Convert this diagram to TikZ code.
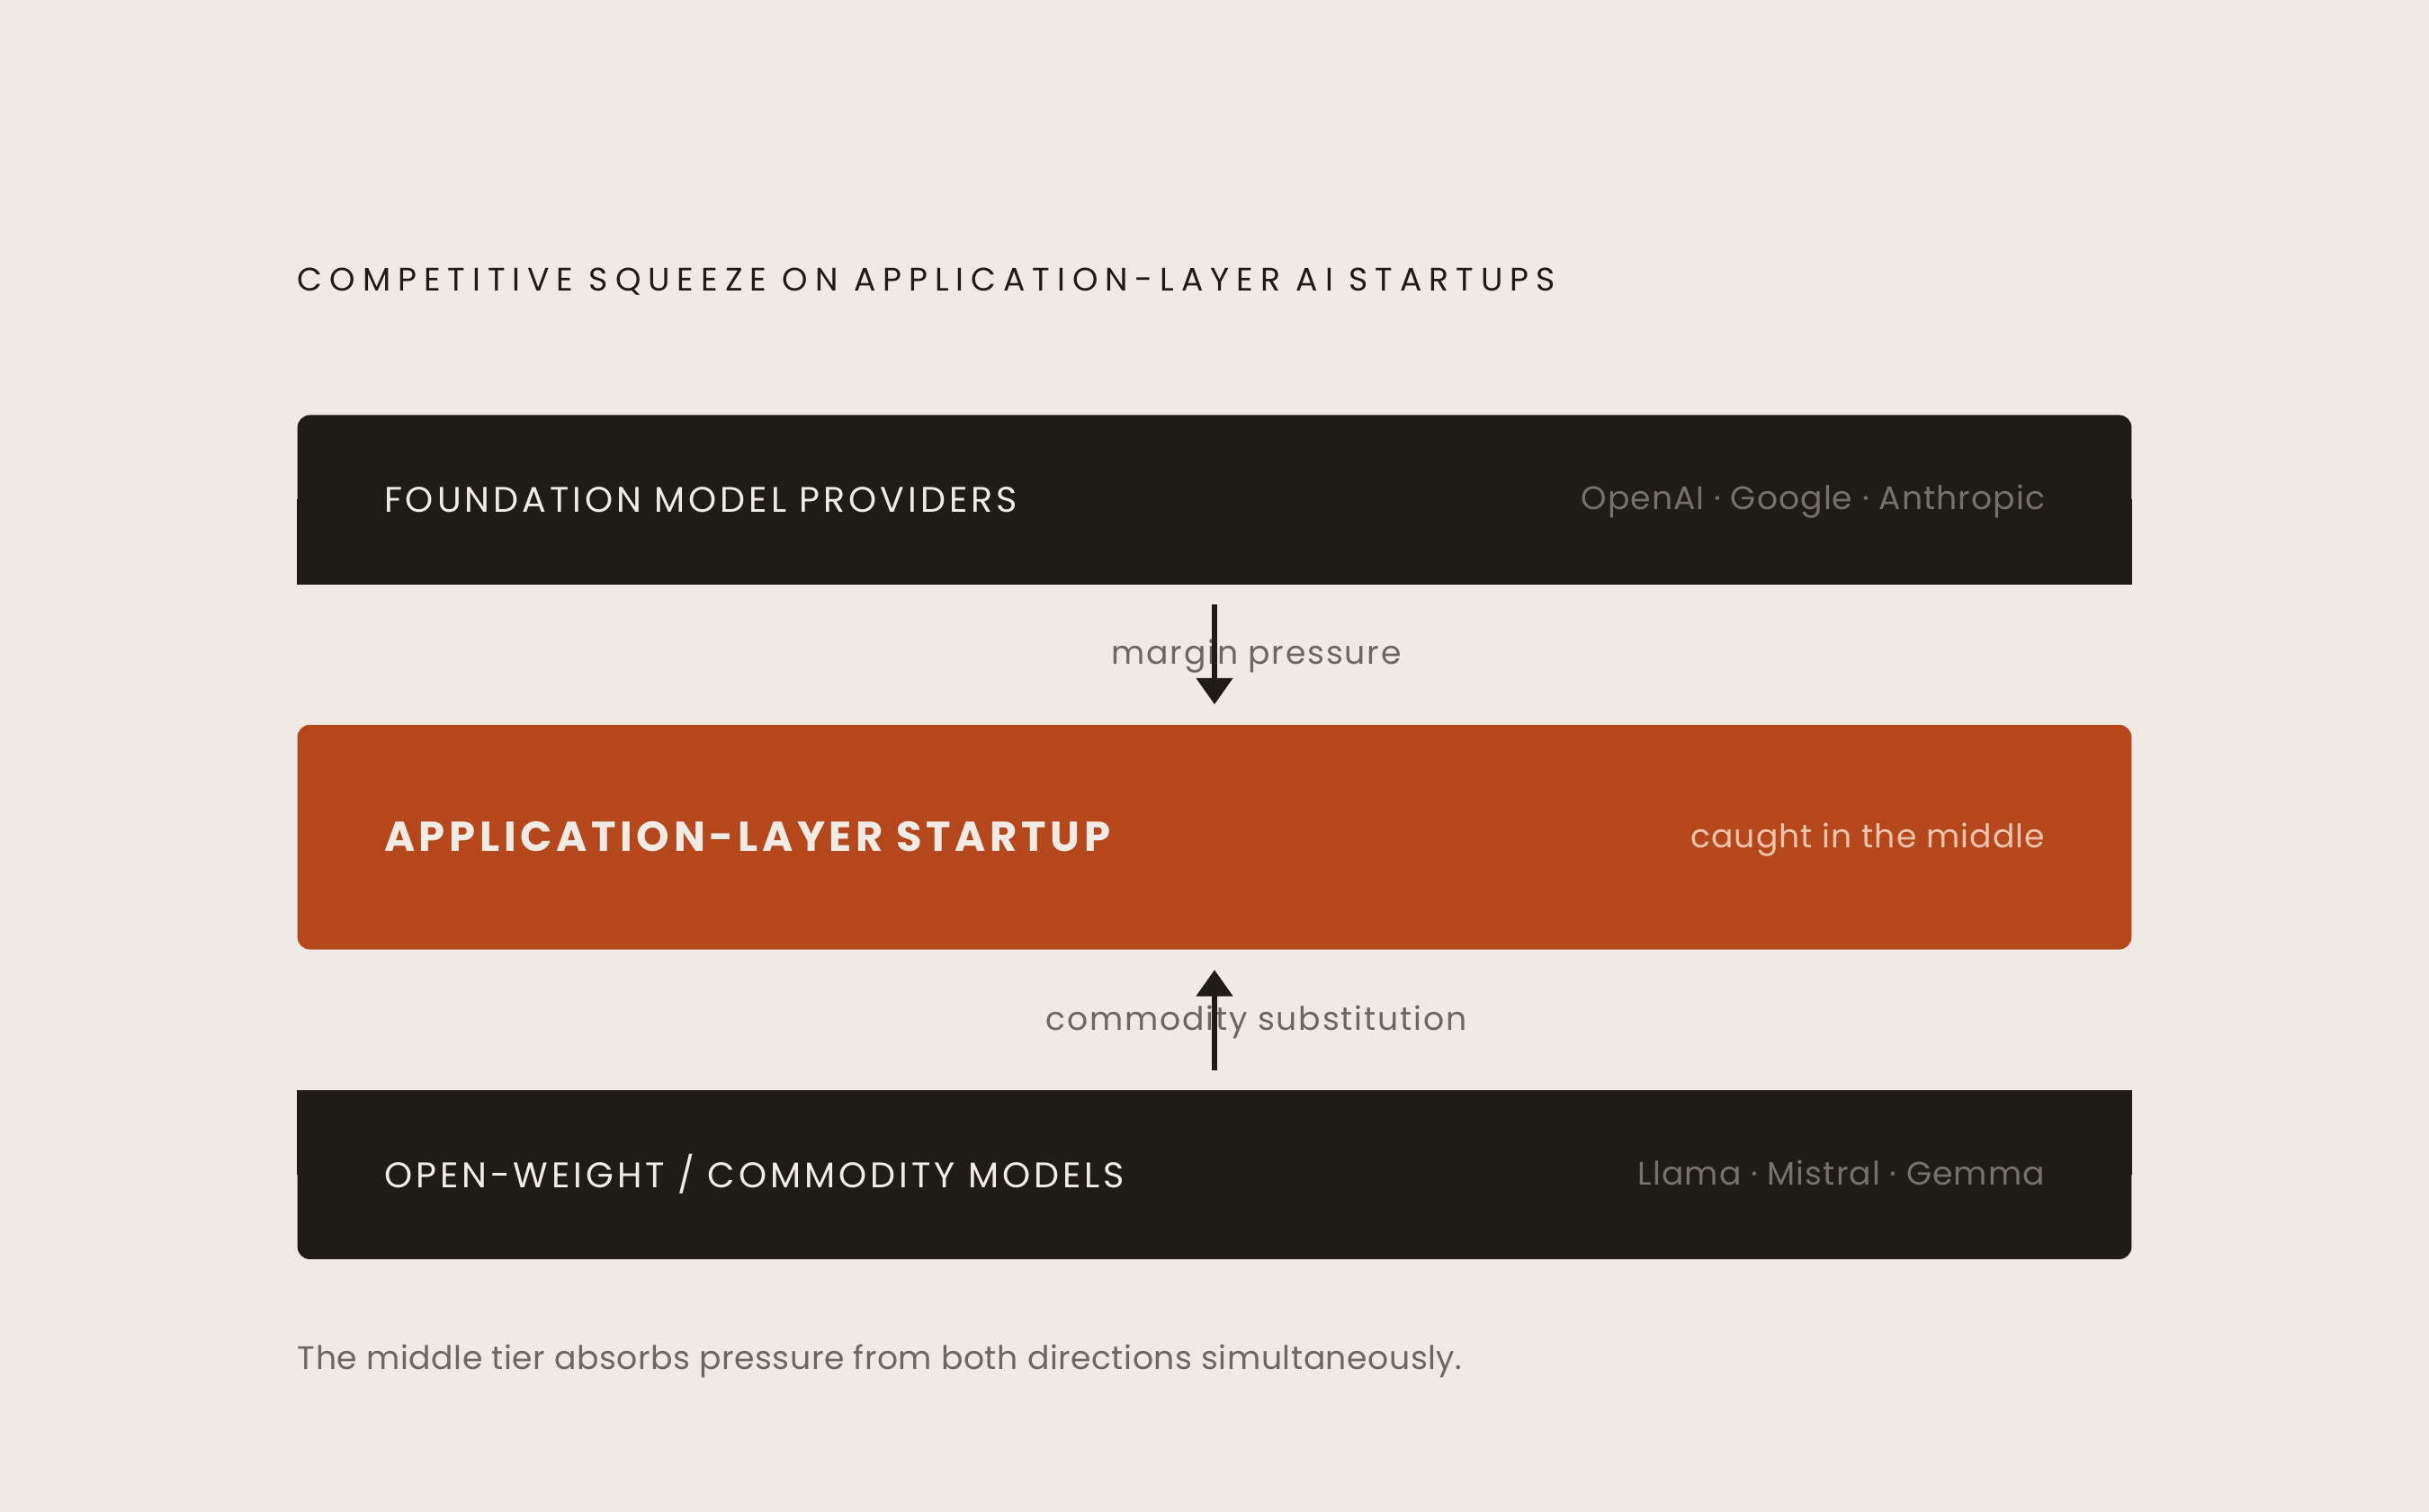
\documentclass[tikz,border=0pt]{standalone}
\usepackage{fontspec}
\setmainfont{Poppins}
\usetikzlibrary{arrows.meta}
\definecolor{paper}{RGB}{239,234,227}
\definecolor{ink}{RGB}{31,27,23}
\definecolor{rust}{RGB}{181,71,28}
\definecolor{cream}{RGB}{240,235,228}
\definecolor{stone}{RGB}{107,103,97}
\definecolor{ash}{RGB}{118,113,107}
\definecolor{peach}{RGB}{241,196,172}

\begin{document}
\begin{tikzpicture}[x=1pt, y=-1pt,
  tier/.style={rectangle, minimum width=1184pt, inner sep=0pt, rounded corners=8pt},
  tiername/.style={anchor=base west, inner sep=0pt, text=cream, font=\fontsize{23}{28}\selectfont\addfontfeature{LetterSpace=10}},
  tiernote/.style={anchor=base east, inner sep=0pt, font=\fontsize{21}{26}\selectfont\addfontfeature{LetterSpace=3}},
  gaplabel/.style={anchor=base, inner sep=0pt, text=stone, font=\fontsize{21}{26}\selectfont\addfontfeature{LetterSpace=5}},
  squeeze/.style={draw=ink, line width=3.5pt, -{Triangle[length=17pt, width=23pt]}}]

  \fill[paper] (0,0) rectangle (1568,976);

  \node[anchor=base west, inner sep=0pt, text=ink, font=\fontsize{21}{25}\selectfont\addfontfeature{LetterSpace=22}] (title) at (192,188) {COMPETITIVE SQUEEZE ON APPLICATION-LAYER AI STARTUPS};

  % the three tiers
  \node[tier, fill=ink, minimum height=109pt] (prov) at (784,322.5) {};
  \fill[ink] (prov.south west) rectangle (prov.east);
  \node[tier, fill=rust, minimum height=145pt] (app) at (784,540.5) {};
  \node[tier, fill=ink, minimum height=109pt] (open) at (784,758.5) {};
  \fill[ink] (open.north west) rectangle (open.east);

  \node[tiername] (provname) at ([shift={(56,8)}]prov.west) {FOUNDATION MODEL PROVIDERS};
  \node[tiernote, text=ash] (provnote) at ([shift={(-56,6.5)}]prov.east) {OpenAI · Google · Anthropic};
  \node[tiername, font=\fontsize{27}{32}\selectfont\bfseries\addfontfeature{LetterSpace=10}] (appname) at ([shift={(56,9)}]app.west) {APPLICATION-LAYER STARTUP};
  \node[tiernote, text=peach] (appnote) at ([shift={(-56,7)}]app.east) {caught in the middle};
  \node[tiername] (openname) at ([shift={(56,8.5)}]open.west) {OPEN-WEIGHT / COMMODITY MODELS};
  \node[tiernote, text=ash] (opennote) at ([shift={(-56,6.5)}]open.east) {Llama · Mistral · Gemma};

  % pressure from above and below
  \node[gaplabel] (marginlbl) at (811,429) {margin pressure};
  \node[gaplabel] (commlbl) at (811,665.5) {commodity substitution};
  \draw[squeeze] ([yshift=-13pt]prov.south) -- ([yshift=13pt]app.north);
  \draw[squeeze] ([yshift=13pt]open.north) -- ([yshift=-13pt]app.south);

  \node[anchor=base west, inner sep=0pt, text=stone, font=\fontsize{21}{26}\selectfont\addfontfeature{LetterSpace=1.5}] (caption) at (192,884.3) {The middle tier absorbs pressure from both directions simultaneously.};
\end{tikzpicture}
\end{document}
